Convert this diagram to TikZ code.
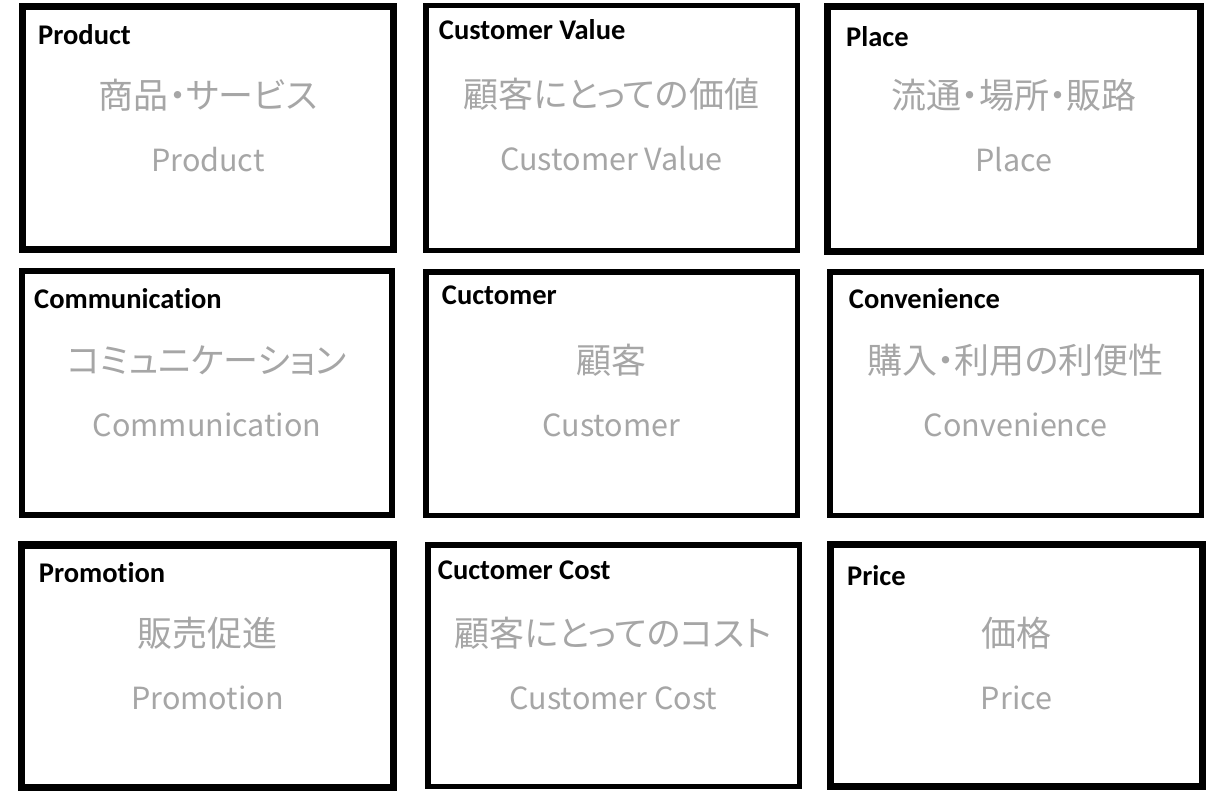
\documentclass[tikz,border=0pt]{standalone}
\usepackage{fontspec}
\setmainfont[Ligatures=CommonOff]{Carlito}
\newfontfamily\jpfont[RawFeature=+palt]{Noto Sans CJK JP}
\usetikzlibrary{calc}
\definecolor{softgray}{RGB}{166,166,166}

\begin{document}
\begin{tikzpicture}[x=1bp, y=-1bp,
    frame/.style={draw=black, rectangle, outer sep=0pt, inner sep=0pt},
    heading/.style={anchor=base west, inner sep=0pt, font=\fontsize{28.5bp}{30bp}\selectfont\bfseries},
    jptext/.style={anchor=base, inner sep=0pt, text=softgray, font=\fontsize{35bp}{37bp}\jpfont},
    entext/.style={anchor=base, inner sep=0pt, text=softgray, font=\fontsize{30.5bp}{32bp}\jpfont}]

        % Page
        \path[use as bounding box, fill=white] (0,0) rectangle (1213,791);

        % Boxes: name/centre/size/line width/heading/heading offset/texts
        \foreach \nm/\cx/\cy/\w/\h/\lw/\ttl/\dx/\dy/\jp/\en in {
            product/208/128/371/243/7/Product/15.5/38.5/商品・サービス/Product,
            value/611.5/128/371.5/244.5/5.5/Customer Value/13/34/顧客にとっての価値/Customer Value,
            place/1014/129/373/245/7/Place/18.5/40.5/流通・場所・販路/Place,
            communication/207/393/370/244/6/Communication/12/37/コミュニケーション/Communication,
            customer/611.5/393.5/371.5/243.5/5.5/Cuctomer/16/33/顧客/Customer,
            convenience/1015.5/393.5/371.5/243.5/5.5/Convenience/19/37/購入・利用の利便性/Convenience,
            promotion/207.5/666/371.5/242.5/7.5/Promotion/17/38/販売促進/Promotion,
            cost/613.5/665.5/371.5/241.5/5.5/Cuctomer Cost/10/35/顧客にとってのコスト/Customer Cost,
            price/1016.5/665.5/372/242/7/Price/16.5/40.5/価格/Price}
        {
            \node[frame, line width=\lw bp, minimum width=\w bp, minimum height=\h bp] (\nm) at (\cx,\cy) {};
            \node[heading] (\nm-t) at ($(\nm.north west)+(\dx,\dy)$) {\ttl};
            \node[jptext] (\nm-j) at ($(\nm.north)+(0,102)$) {\jp};
            \node[entext] (\nm-e) at ($(\nm.north)+(0,165)$) {\en};
        }
\end{tikzpicture}
\end{document}
